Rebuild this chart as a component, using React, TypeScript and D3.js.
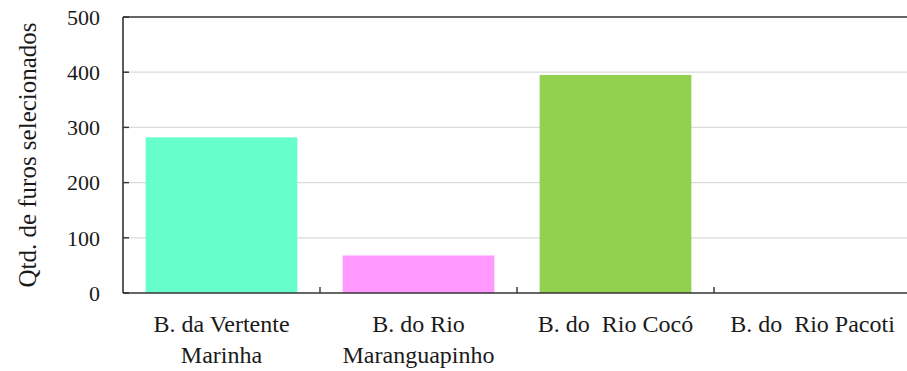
import React from "react";
import * as d3 from "d3";

const categories: string[][] = [
  ["B. da Vertente", "Marinha"],
  ["B. do Rio", "Maranguapinho"],
  ["B. do  Rio Cocó"],
  ["B. do  Rio Pacoti"],
];
const values: number[] = [282, 68, 395, 0];
const colors: string[] = ["#66FFCC", "#FF99FF", "#92D050", "#8EB4E3"];
const yTicks: number[] = [0, 100, 200, 300, 400, 500];
const yTitle = "Qtd. de furos selecionados";

const W = 907;
const H = 371;
const left = 123;
const right = 911;
const top = 17;
const bottom = 293;

export default function App() {
  const keys = categories.map((c) => c.join(" "));
  const x = d3
    .scaleBand<string>()
    .domain(keys)
    .range([left, right])
    .paddingInner(0.23)
    .paddingOuter(0.115);
  const y = d3.scaleLinear().domain([0, 500]).range([bottom, top]);
  const step = x.step();
  const boundaries = keys.map((_, i) => left + (i + 1) * step);
  const fontStyle = { fontFamily: "Liberation Serif" };

  return (
    <div style={{ position: "fixed", left: 0, top: 0, width: W, height: H, background: "#fff" }}>
      <svg width={W} height={H} style={{ display: "block", ...fontStyle }}>
        <rect x={0} y={0} width={W} height={H} fill="#fff" />
        {yTicks
          .filter((t) => t > 0 && t < 500)
          .map((t) => (
            <line key={"g" + t} x1={left} x2={right} y1={y(t)} y2={y(t)} stroke="#dadada" strokeWidth={1.2} />
          ))}
        {keys.map((k, i) => (
          <rect
            key={k}
            x={x(k)}
            y={y(values[i])}
            width={x.bandwidth()}
            height={y(0) - y(values[i])}
            fill={colors[i]}
          />
        ))}
        <line x1={left} x2={right} y1={top} y2={top} stroke="#333" strokeWidth={1.6} />
        <line x1={left} x2={left} y1={top} y2={bottom} stroke="#333" strokeWidth={1.6} />
        <line x1={left} x2={right} y1={bottom} y2={bottom} stroke="#333" strokeWidth={1.6} />
        {yTicks.map((t) => (
          <line key={"yt" + t} x1={left} x2={left + 6} y1={y(t)} y2={y(t)} stroke="#333" strokeWidth={1.4} />
        ))}
        {boundaries.map((b, i) => (
          <line key={"xt" + i} x1={b} x2={b} y1={bottom} y2={bottom - 6} stroke="#333" strokeWidth={1.4} />
        ))}
        {yTicks.map((t) => (
          <text
            key={"yl" + t}
            x={100}
            y={y(t)}
            dy="0.35em"
            textAnchor="end"
            fontSize={22}
            fill="#1a1a1a"
            style={fontStyle}
          >
            {t}
          </text>
        ))}
        {categories.map((lines, i) => (
          <text
            key={"xl" + i}
            x={(x(keys[i]) as number) + x.bandwidth() / 2}
            y={332}
            textAnchor="middle"
            fontSize={24}
            fill="#1a1a1a"
            style={{ ...fontStyle, whiteSpace: "pre" }}
          >
            {lines.map((ln, j) => (
              <tspan key={j} x={(x(keys[i]) as number) + x.bandwidth() / 2} dy={j === 0 ? 0 : 31}>
                {ln}
              </tspan>
            ))}
          </text>
        ))}
        <text
          transform={`translate(36, ${(top + bottom) / 2}) rotate(-90)`}
          textAnchor="middle"
          fontSize={25}
          fill="#1a1a1a"
          style={fontStyle}
        >
          {yTitle}
        </text>
      </svg>
    </div>
  );
}
